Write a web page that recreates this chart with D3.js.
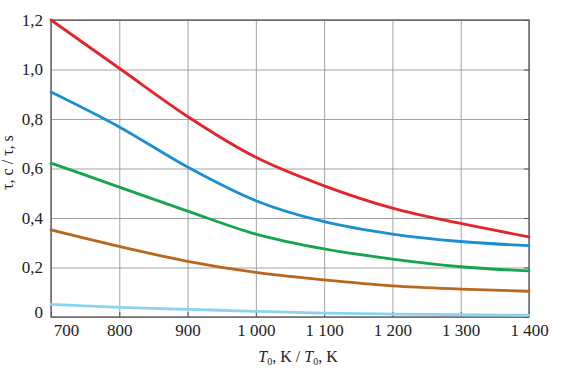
<!DOCTYPE html>
<html lang="en">
<head>
    <meta charset="UTF-8">
    <title>tau vs T0</title>
    <script src="https://d3js.org/d3.v7.min.js"></script>
    <style>
        body { margin: 0; background: #fff; }
        text { font-family: "Liberation Serif", "Times New Roman", serif; fill: #222; }
        .grid line { stroke: #999; stroke-width: 0.9; }
        .frame { fill: none; stroke: #555; stroke-width: 1.3; }
        .curve { fill: none; stroke-width: 2.8; stroke-linecap: round; }
    </style>
</head>
<body>
    <svg id="chart"></svg>
    <script>
        // temperatures, K
        var temps = [700, 800, 900, 1000, 1100, 1200, 1300, 1400];
        // series values, s
        var redVals = [1.2, 1.005, 0.81, 0.645, 0.53, 0.44, 0.378, 0.324];
        var blueVals = [0.909, 0.768, 0.606, 0.47, 0.385, 0.335, 0.305, 0.288];
        var greenVals = [0.622, 0.525, 0.428, 0.335, 0.275, 0.234, 0.203, 0.186];
        var brownVals = [0.352, 0.285, 0.225, 0.18, 0.15, 0.126, 0.113, 0.104];
        var cyanVals = [0.051, 0.039, 0.031, 0.023, 0.016, 0.012, 0.009, 0.007];
        var xTicks = [700, 800, 900, 1000, 1100, 1200, 1300, 1400];
        var yTicks = [0, 0.2, 0.4, 0.6, 0.8, 1.0, 1.2];

        var series = [
            {vals: redVals, color: "#e5232b"},
            {vals: blueVals, color: "#1b8fd0"},
            {vals: greenVals, color: "#15a54f"},
            {vals: brownVals, color: "#b9661f"},
            {vals: cyanVals, color: "#8dd3ef"}
        ];

        var margin = {top: 20, right: 39, bottom: 51, left: 51},
            width = 568 - margin.left - margin.right,
            height = 368 - margin.top - margin.bottom;

        var x = d3.scaleLinear().domain([700, 1400]).range([0, width]);
        var y = d3.scaleLinear().domain([0, 1.2]).range([height, 0]);

        var svg = d3.select("#chart")
            .attr("width", 568)
            .attr("height", 368)
            .append("g")
            .attr("transform", "translate(" + margin.left + "," + margin.top + ")");

        // grid
        svg.append("g").attr("class", "grid")
            .call(d3.axisBottom(x).tickValues(xTicks).tickSize(height).tickFormat(""))
            .call(g => g.select(".domain").remove());
        svg.append("g").attr("class", "grid")
            .call(d3.axisRight(y).tickValues(yTicks).tickSize(width).tickFormat(""))
            .call(g => g.select(".domain").remove());

        // frame
        svg.append("rect").attr("class", "frame")
            .attr("width", width).attr("height", height);

        // inward ticks on right and bottom
        svg.append("g").attr("transform", "translate(" + width + ",0)")
            .call(d3.axisLeft(y).tickValues(yTicks).tickSize(5).tickFormat(""))
            .call(g => g.select(".domain").remove())
            .selectAll("line").attr("stroke", "#555");
        svg.append("g").attr("transform", "translate(0," + height + ")")
            .call(d3.axisTop(x).tickValues(xTicks).tickSize(5).tickFormat(""))
            .call(g => g.select(".domain").remove())
            .selectAll("line").attr("stroke", "#555");

        // tick labels
        var fmtX = d => d >= 1000 ? Math.floor(d / 1000) + " " + String(d % 1000).padStart(3, "0") : String(d);
        var fmtY = d => d === 0 ? "0" : d.toFixed(1).replace(".", ",");

        var xAxis = svg.append("g").attr("transform", "translate(0," + height + ")")
            .call(d3.axisBottom(x).tickValues(xTicks).tickSize(0).tickPadding(7).tickFormat(fmtX));
        xAxis.select(".domain").remove();
        xAxis.selectAll("text").style("font-size", "17px").attr("fill", "#222")
            .attr("dx", d => d === 700 ? 15 : 0);

        var yAxis = svg.append("g")
            .call(d3.axisLeft(y).tickValues(yTicks).tickSize(0).tickPadding(8).tickFormat(fmtY));
        yAxis.select(".domain").remove();
        yAxis.selectAll("text").style("font-size", "17px").attr("fill", "#222")
            .attr("dy", d => d === 0 ? "0" : "0.32em");

        // curves
        var line = d3.line()
            .x((d, i) => x(temps[i]))
            .y(d => y(d))
            .curve(d3.curveMonotoneX);

        svg.selectAll(".curve")
            .data(series)
            .enter().append("path")
            .attr("class", "curve")
            .attr("stroke", d => d.color)
            .attr("d", d => line(d.vals));

        // axis titles
        var xt = svg.append("text")
            .attr("x", width / 2 + 8)
            .attr("y", height + 45)
            .attr("text-anchor", "middle")
            .style("font-size", "16px");
        xt.append("tspan").style("font-style", "italic").text("T");
        xt.append("tspan").attr("dy", 3).style("font-size", "10px").text("0");
        xt.append("tspan").attr("dy", -3).text(", K / ");
        xt.append("tspan").style("font-style", "italic").text("T");
        xt.append("tspan").attr("dy", 3).style("font-size", "10px").text("0");
        xt.append("tspan").attr("dy", -3).text(", K");

        svg.append("text")
            .attr("transform", "translate(" + (-38) + "," + (height / 2 - 6) + ") rotate(-90)")
            .attr("text-anchor", "middle")
            .style("font-size", "16px")
            .text("\u03c4, \u0441 / \u03c4, s");
    </script>
</body>
</html>
